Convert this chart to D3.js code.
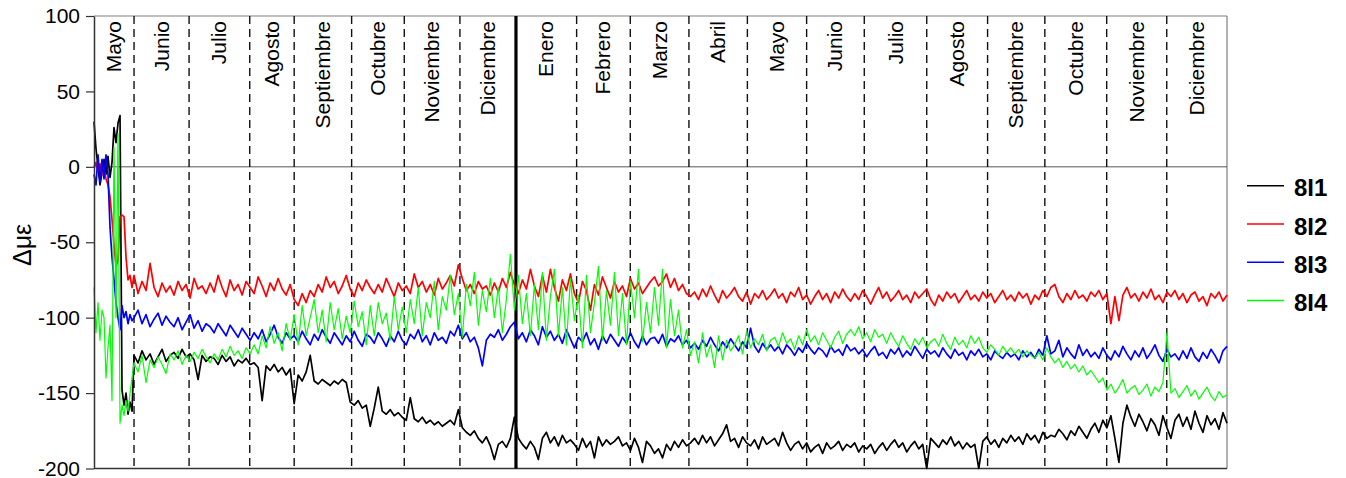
<!DOCTYPE html>
<html><head><meta charset="utf-8">
<script src="https://cdn.jsdelivr.net/npm/d3@7"></script>
<style>body{margin:0;background:#fff}svg{display:block}text{font-family:"Liberation Sans",Arial,sans-serif}</style>
</head><body>
<svg id="c" width="1346" height="478"></svg>
<script>
// ---- data ----
const monthLabels = ["Mayo","Junio","Julio","Agosto","Septiembre","Octubre","Noviembre","Diciembre","Enero","Febrero","Marzo","Abril","Mayo","Junio","Julio","Agosto","Septiembre","Octubre","Noviembre","Diciembre"];
// month edges in day units (first and last are plot ends)
const monthEdges = [0,20,47.5,77.8,100,128.7,155,182.8,210.8,241.1,267.9,297.2,326.4,356,384.8,416,446.4,475,505.9,535.9,566];
const yearBoundary = 210.8;
const yTicks = [100,50,0,-50,-100,-150,-200];
const seriesNames = ["8I1","8I2","8I3","8I4"];
const seriesColors = ["#000000","#ff0000","#0000ff","#00ff00"];

const s8I1 = [30,12,0,-12,-4,5,-5,7,-7,3,26,16,29,34,-148,-158,-150,-164,-156,-162,
-125,-130,-122,-128,-124,-131,-126,-121,-129,-125,
-123,-127,-121,-126,-124,-128,-141,-125,-129,-126,
-127,-131,-125,-129,-126,-132,-128,-130,-127,-131,
-130,-133,-155,-132,-135,-131,-136,-133,-138,-134,
-157,-138,-142,-136,-125,-142,-144,-141,-143,-145,
-142,-144,-141,-143,-156,-158,-155,-160,-158,-172,
-160,-146,-162,-164,-161,-165,-163,-166,-168,-153,
-167,-169,-166,-170,-168,-171,-169,-172,-170,-168,
-171,-161,-173,-176,-178,-175,-180,-183,-179,-185,
-194,-184,-182,-186,-180,-166,-180,-184,-187,-182,
-186,-194,-180,-176,-183,-179,-185,-178,-183,-181,
-184,-188,-180,-186,-182,-193,-179,-185,-181,-184,
-182,-179,-185,-183,-188,-180,-186,-196,-182,-185,
-190,-187,-193,-184,-188,-182,-186,-181,-185,-183,
-180,-184,-178,-183,-179,-185,-181,-177,-171,-182,
-180,-186,-179,-183,-185,-181,-187,-179,-184,-182,
-180,-185,-176,-183,-188,-184,-182,-187,-183,-189,
-186,-184,-190,-183,-187,-185,-182,-188,-184,-186,
-183,-189,-185,-187,-184,-190,-186,-183,-188,-184,
-181,-186,-183,-189,-185,-182,-187,-184,-200,-180,
-183,-186,-181,-184,-179,-185,-182,-187,-183,-186,
-184,-200,-182,-179,-184,-181,-186,-180,-183,-178,
-182,-179,-184,-177,-181,-178,-183,-176,-180,-178,
-179,-174,-177,-181,-175,-178,-172,-176,-180,-174,
-170,-176,-168,-173,-165,-180,-196,-170,-158,-166,
-172,-164,-169,-175,-167,-171,-178,-165,-173,-180,
-168,-164,-172,-166,-174,-162,-170,-176,-165,-171,
-167,-174,-163,-170];

const s8I2 = [0,3,-3,2,-5,-2,-8,-12,-20,-35,-52,-66,-62,-33,-32,-33,-60,-75,-72,-80,
-72,-84,-76,-82,-64,-80,-86,-77,-83,-79,
-85,-76,-82,-78,-87,-74,-81,-79,-84,-77,
-83,-72,-80,-86,-75,-82,-78,-85,-76,-80,
-84,-73,-79,-86,-77,-82,-74,-81,-85,-78,
-88,-92,-84,-90,-82,-86,-78,-83,-73,-80,
-76,-84,-79,-72,-81,-86,-77,-82,-75,-80,
-84,-78,-83,-74,-80,-86,-77,-82,-79,-84,
-71,-80,-76,-83,-78,-85,-74,-81,-77,-72,
-79,-65,-74,-82,-78,-84,-76,-81,-79,-85,
-77,-83,-74,-80,-70,-78,-84,-75,-81,-68,
-79,-86,-72,-83,-68,-80,-89,-75,-82,-71,
-84,-90,-76,-82,-95,-78,-85,-73,-80,-87,
-76,-83,-79,-86,-74,-81,-77,-84,-80,-76,
-73,-79,-76,-71,-80,-74,-82,-78,-84,-86,
-83,-88,-81,-86,-79,-85,-90,-82,-87,-84,
-80,-86,-89,-83,-91,-84,-87,-82,-88,-85,
-81,-87,-84,-90,-83,-86,-80,-88,-85,-91,
-86,-82,-88,-84,-90,-83,-87,-81,-86,-89,
-84,-88,-82,-86,-91,-85,-80,-87,-83,-89,
-86,-82,-88,-85,-90,-83,-87,-84,-81,-88,
-92,-85,-89,-83,-87,-84,-90,-86,-82,-88,
-85,-89,-83,-87,-84,-90,-86,-82,-88,-85,
-89,-83,-87,-84,-91,-85,-88,-82,-86,-80,
-78,-86,-90,-84,-88,-82,-87,-85,-89,-83,
-86,-82,-88,-84,-104,-86,-102,-85,-80,-87,
-84,-89,-83,-87,-81,-88,-85,-90,-83,-86,
-82,-88,-84,-90,-85,-83,-89,-86,-92,-84,
-87,-83,-89,-85];

const s8I3 = [-5,-12,8,-10,5,-8,8,-5,-40,-60,-75,-90,-100,-108,-92,-100,-96,-104,-98,-102,
-100,-95,-104,-98,-106,-101,-97,-105,-99,-103,
-106,-100,-108,-103,-98,-107,-102,-109,-104,-106,
-110,-104,-108,-112,-105,-109,-113,-107,-111,-115,
-110,-114,-108,-116,-111,-105,-113,-117,-110,-114,
-112,-116,-109,-114,-118,-111,-115,-108,-113,-117,
-110,-114,-118,-112,-116,-109,-115,-119,-111,-113,
-117,-110,-114,-119,-112,-116,-109,-115,-118,-111,
-114,-108,-116,-112,-118,-110,-115,-113,-117,-109,
-112,-105,-114,-110,-116,-113,-120,-132,-115,-111,
-113,-108,-115,-111,-106,-103,-114,-110,-116,-108,
-112,-118,-106,-113,-109,-115,-111,-117,-108,-114,
-120,-113,-116,-110,-118,-114,-121,-112,-117,-111,
-115,-119,-113,-117,-110,-116,-120,-112,-118,-114,
-113,-117,-111,-119,-114,-116,-112,-118,-115,-120,
-117,-121,-115,-119,-113,-118,-122,-116,-120,-114,
-118,-122,-116,-120,-107,-119,-123,-117,-121,-118,
-122,-119,-124,-118,-121,-125,-120,-123,-117,-121,
-124,-120,-122,-126,-119,-123,-121,-125,-118,-122,
-120,-124,-121,-126,-122,-119,-125,-123,-127,-121,
-124,-120,-126,-122,-125,-119,-123,-127,-121,-124,
-122,-126,-120,-124,-127,-121,-125,-123,-128,-122,
-125,-121,-126,-124,-128,-122,-125,-127,-123,-126,
-124,-128,-122,-126,-123,-127,-121,-125,-112,-124,
-122,-115,-126,-120,-124,-127,-118,-125,-121,-126,
-123,-127,-120,-125,-128,-122,-126,-119,-124,-128,
-122,-126,-120,-127,-123,-118,-125,-129,-121,-126,
-124,-128,-122,-127,-120,-126,-129,-123,-127,-121,
-125,-130,-122,-119];

const s8I4 = [-80,-110,-90,-115,-95,-100,-140,-120,-105,-155,13,-100,22,-170,-158,-165,-155,-162,-150,-140,
-130,-136,-125,-143,-128,-133,-126,-131,-137,-124,
-128,-122,-131,-125,-129,-123,-127,-121,-126,-130,
-124,-128,-121,-126,-119,-125,-122,-127,-120,-124,
-118,-124,-112,-120,-106,-117,-110,-122,-104,-115,
-98,-118,-92,-112,-100,-88,-110,-95,-116,-90,
-108,-94,-114,-99,-110,-89,-106,-96,-118,-92,
-112,-90,-104,-97,-115,-86,-108,-93,-110,-88,
-104,-80,-112,-90,-100,-76,-108,-86,-95,-72,
-98,-84,-113,-78,-92,-70,-105,-82,-96,-74,
-100,-80,-110,-88,-58,-95,-72,-104,-84,-112,
-78,-108,-70,-115,-86,-68,-112,-80,-118,-74,
-102,-85,-120,-72,-110,-90,-66,-115,-82,-105,
-70,-112,-84,-118,-76,-100,-68,-116,-90,-110,
-80,-105,-68,-120,-88,-112,-95,-120,-108,-125,
-116,-130,-110,-126,-118,-133,-112,-128,-115,-122,
-118,-112,-124,-109,-120,-114,-118,-111,-122,-115,
-113,-119,-110,-117,-114,-121,-112,-118,-108,-116,
-112,-118,-110,-115,-120,-113,-109,-117,-111,-108,
-112,-106,-114,-110,-116,-108,-113,-111,-117,-110,
-115,-119,-112,-117,-121,-114,-118,-113,-120,-116,
-114,-119,-111,-117,-121,-113,-118,-115,-120,-112,
-117,-113,-120,-123,-118,-121,-125,-119,-123,-120,
-124,-121,-126,-122,-125,-127,-123,-128,-120,-126,
-130,-127,-133,-129,-134,-131,-136,-132,-138,-135,
-139,-143,-140,-148,-144,-150,-146,-141,-150,-147,
-145,-151,-148,-144,-152,-146,-149,-143,-110,-150,
-147,-153,-149,-145,-152,-148,-154,-150,-146,-152,
-155,-149,-153,-151];

// sample positions (days): daily for the first 20 days, then every 2 days
const days = d3.range(0, 20).concat(d3.range(20, 567, 2));

// ---- chart ----
const svg = d3.select("#c");
const L = 94, R = 1227, T = 16, B = 468.5;
const x = d3.scaleLinear().domain([0, 566]).range([L, R]);
const y = d3.scaleLinear().domain([-200, 100]).range([B, T]);

// frame
svg.append("line").attr("x1", L).attr("x2", R).attr("y1", T).attr("y2", T).attr("stroke", "#808080").attr("stroke-width", 1.2);
svg.append("line").attr("x1", R).attr("x2", R).attr("y1", T).attr("y2", B).attr("stroke", "#808080").attr("stroke-width", 1.2);
svg.append("line").attr("x1", L).attr("x2", R).attr("y1", B).attr("y2", B).attr("stroke", "#333").attr("stroke-width", 1.5);
svg.append("line").attr("x1", L).attr("x2", R).attr("y1", y(0)).attr("y2", y(0)).attr("stroke", "#555").attr("stroke-width", 1);

// month dividers
const inner = monthEdges.slice(1, -1);
svg.append("g").selectAll("line").data(inner).join("line")
  .attr("x1", d => x(d)).attr("x2", d => x(d)).attr("y1", T).attr("y2", B)
  .attr("stroke", d => d === yearBoundary ? "#000" : "#111")
  .attr("stroke-width", d => d === yearBoundary ? 3.2 : 1.4)
  .attr("stroke-dasharray", d => d === yearBoundary ? null : "8,5");

// month labels
svg.append("g").selectAll("text").data(monthLabels).join("text")
  .attr("transform", (d, i) => `translate(${(x(monthEdges[i]) + x(monthEdges[i + 1])) / 2 + 7},21) rotate(-90)`)
  .attr("text-anchor", "end")
  .attr("font-size", 21)
  .attr("fill", "#000")
  .text(d => d);

// series
const line = d3.line().x((d, i) => x(days[i])).y(d => y(d));
const seriesData = [s8I1, s8I2, s8I3, s8I4];
const widths = [1.7, 1.7, 1.7, 1.2];
const gL = svg.append("g");
seriesData.forEach((s, j) => {
  gL.append("path").attr("d", line(s)).attr("fill", "none")
    .attr("stroke", seriesColors[j]).attr("stroke-width", widths[j]).attr("stroke-linejoin", "round");
});

// y axis
const ax = svg.append("g").attr("transform", `translate(${L},0)`)
  .call(d3.axisLeft(y).tickValues(yTicks).tickFormat(d => String(d)).tickSize(8).tickSizeOuter(0).tickPadding(6));
ax.select(".domain").attr("stroke", "#333").attr("stroke-width", 1.5);
ax.selectAll(".tick line").attr("stroke", "#333").attr("stroke-width", 1.2);
ax.selectAll(".tick text").attr("font-size", 21).attr("fill", "#000").attr("font-family", '"Liberation Sans", Arial, sans-serif');

// y label
svg.append("text").attr("transform", "translate(31,266) rotate(-90)")
  .attr("text-anchor", "start").attr("font-size", 25).text("Δμε");

// legend
const lg = svg.append("g").selectAll("g").data(seriesNames).join("g")
  .attr("transform", (d, i) => `translate(1247,${185.7 + i * 38.3})`);
lg.append("line").attr("x1", 0).attr("x2", 37).attr("stroke", (d, i) => seriesColors[i]).attr("stroke-width", 1.5);
lg.append("text").attr("x", 47).attr("y", 10.5).attr("font-size", 24).attr("font-weight", "bold").text(d => d);
</script>
</body></html>
